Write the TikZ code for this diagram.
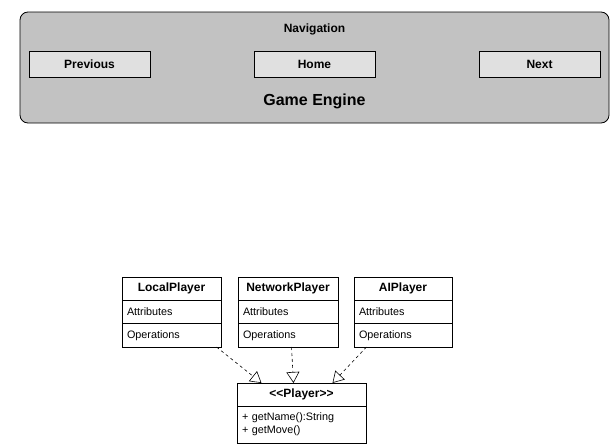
\documentclass[tikz,border=0pt]{standalone}
\usepackage{fontspec}
\setmainfont{Liberation Sans}
\usetikzlibrary{arrows.meta}

\tikzset{
  engine/.style={draw, rounded corners=8pt, fill=black!24, line width=0.8pt},
  button/.style={draw, fill=black!12, minimum width=121pt, minimum height=26pt, font=\fontsize{12}{14}\selectfont\bfseries, line width=0.7pt},
  classname/.style={draw, fill=white, outer sep=0pt, minimum height=23pt, font=\fontsize{12}{14}\selectfont\bfseries, line width=0.7pt},
  compart/.style={draw, fill=white, outer sep=0pt, minimum height=23.5pt, text width=#1, align=left, inner xsep=5pt, font=\fontsize{10.8}{13}\selectfont, line width=0.7pt},
  realize/.style={dashed, line width=0.6pt, -{Triangle[open, length=11pt, width=13pt]}}
}

\begin{document}
\begin{tikzpicture}[x=1pt, y=-1pt]
\useasboundingbox (0,0) rectangle (612,447);
% game engine
\draw[engine] (20,12) rectangle (609,123);
\node[font=\fontsize{12}{14}\selectfont\bfseries] (nav) at (314.5,29) {Navigation};
\node[button] (prev) at (89.5,64) {Previous};
\node[button] (home) at (314.5,64) {Home};
\node[button] (next) at (539.5,64) {Next};
\node[font=\fontsize{16}{18}\selectfont\bfseries] (ge) at (314.5,101.5) {Game Engine};
% player classes
\node[classname, minimum width=99pt] (lp) at (171.5,288.5) {LocalPlayer};
\node[compart=89pt, anchor=north] (lpattr) at (lp.south) {Attributes};
\node[compart=89pt, anchor=north] (lpops) at (lpattr.south) {Operations};
\node[classname, minimum width=100pt] (np) at (288,288.5) {NetworkPlayer};
\node[compart=90pt, anchor=north] (npattr) at (np.south) {Attributes};
\node[compart=90pt, anchor=north] (npops) at (npattr.south) {Operations};
\node[classname, minimum width=98pt] (ai) at (403,288.5) {AIPlayer};
\node[compart=88pt, anchor=north] (aiattr) at (ai.south) {Attributes};
\node[compart=88pt, anchor=north] (aiops) at (aiattr.south) {Operations};
% interface
\node[classname, minimum width=129pt] (pl) at (301.5,394.5) {<\kern0pt<Player>\kern0pt>};
\node[compart=119pt, anchor=north, minimum height=37pt] (plops) at (pl.south) {+ getName():String\\+ getMove()};
% realizations
\draw[realize] ([xshift=-4.5pt]lpops.south east) -- ([xshift=-40pt]pl.north);
\draw[realize] ([xshift=3.5pt]npops.south) -- ([xshift=-8pt]pl.north);
\draw[realize] ([xshift=12.5pt]aiops.south west) -- ([xshift=31pt]pl.north);
\end{tikzpicture}
\end{document}
